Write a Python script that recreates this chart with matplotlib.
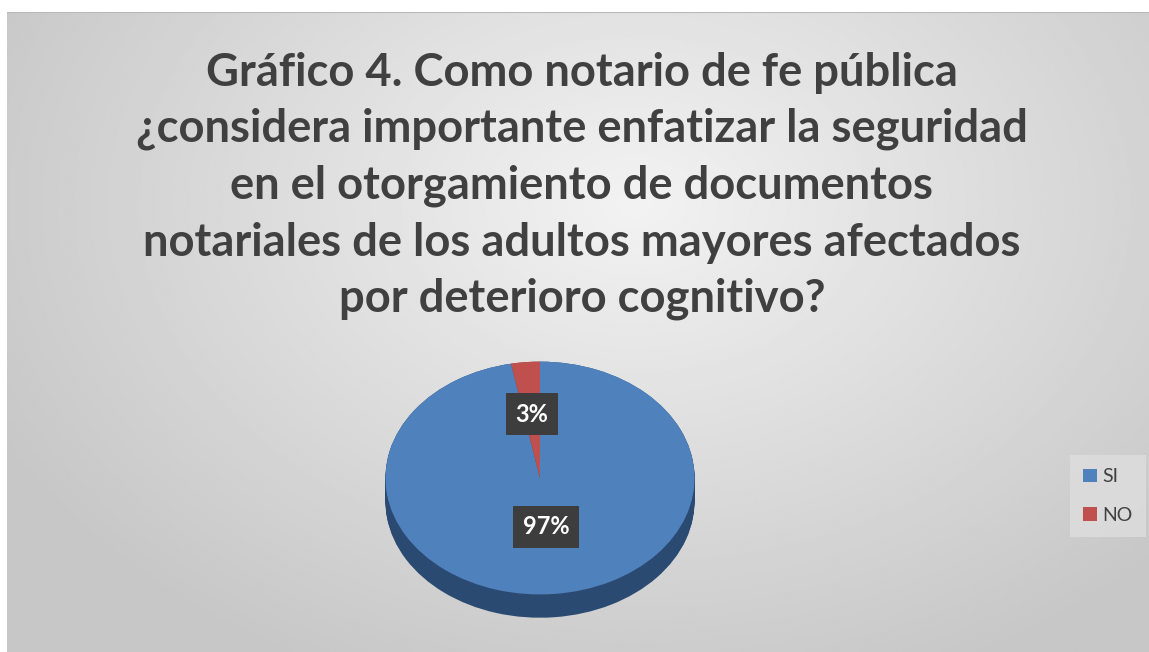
import numpy as np
import matplotlib.pyplot as plt
from matplotlib.patches import Patch

# data
labels = ['SI', 'NO']
values = [97, 3]
pct_labels = ['97%', '3%']
colors = ['#4f81bd', '#c0504d']
side_colors = ['#2b4a72', '#8a3533']
title = ('Gráfico 4. Como notario de fe pública\n'
         '¿considera importante enfatizar la seguridad\n'
         'en el otorgamiento de documentos\n'
         'notariales de los adultos mayores afectados\n'
         'por deterioro cognitivo?')

W, H = 1149, 652
fig = plt.figure(figsize=(W / 100, H / 100), dpi=100)
fig.patch.set_facecolor('white')

# gradient background of the chart area
bg = fig.add_axes([7 / W, 0, 1 - 7 / W, (H - 12) / H])
yy, xx = np.mgrid[0:1:300j, 0:1:500j]
r = np.sqrt(((xx - 0.55) / 0.7) ** 2 + ((yy - 0.3) / 0.9) ** 2)
shade = np.clip(0.95 - 0.19 * r, 0.78, 0.95)
bg.imshow(shade, cmap='gray', vmin=0, vmax=1, aspect='auto',
          extent=(0, 1, 1, 0), interpolation='bilinear')
bg.set_xlim(0, 1)
bg.set_ylim(1, 0)
bg.axis('off')
bg.axhline(0, color='#b8b8b8', lw=1.5)

fig.text(582 / W, 1 - 186 / H, title, ha='center', va='center',
         fontsize=32.7, fontweight='bold', color='#404040',
         family=['Lato', 'DejaVu Sans'], linespacing=1.42)

# pie (elliptical, with a thin 3d side)
ax = fig.add_axes([370 / W, 11 / H, 340 / W, 291 / H])
depth = 0.2
for d in np.linspace(depth, 0, 25):
    ax.pie(values, colors=side_colors, startangle=90, counterclock=False,
           center=(0, -d), radius=1, wedgeprops=dict(linewidth=0))
wedges, _ = ax.pie(values, colors=colors, startangle=90, counterclock=False,
                   radius=1, wedgeprops=dict(linewidth=0))
ax.set_aspect('auto')
ax.set_xlim(-1.1, 1.1)
ax.set_ylim(-1.4, 1.1)
ax.axis('off')

label_r = [0.42, 0.55]
for w, txt, lr in zip(wedges, pct_labels, label_r):
    ang = np.deg2rad((w.theta1 + w.theta2) / 2)
    ax.text(lr * np.cos(ang), lr * np.sin(ang), txt, ha='center', va='center',
            fontsize=17, fontweight='bold', color='white',
            family=['Lato', 'DejaVu Sans'],
            bbox=dict(boxstyle='square,pad=0.4', facecolor='#3d3d3d',
                      edgecolor='none'))

handles = [Patch(facecolor=c, edgecolor='none', label=l) for c, l in zip(colors, labels)]
leg = fig.legend(handles=handles, loc='center', bbox_to_anchor=(1108 / W, 1 - 496 / H),
                 frameon=True, facecolor='#dedede', edgecolor='none', fancybox=False,
                 prop=dict(family=['Lato', 'DejaVu Sans'], size=14),
                 labelcolor='#404040', handlelength=0.7, handleheight=0.7,
                 handletextpad=0.3, labelspacing=1.1, borderpad=0.7)

fig.savefig('out.png', dpi=100)
